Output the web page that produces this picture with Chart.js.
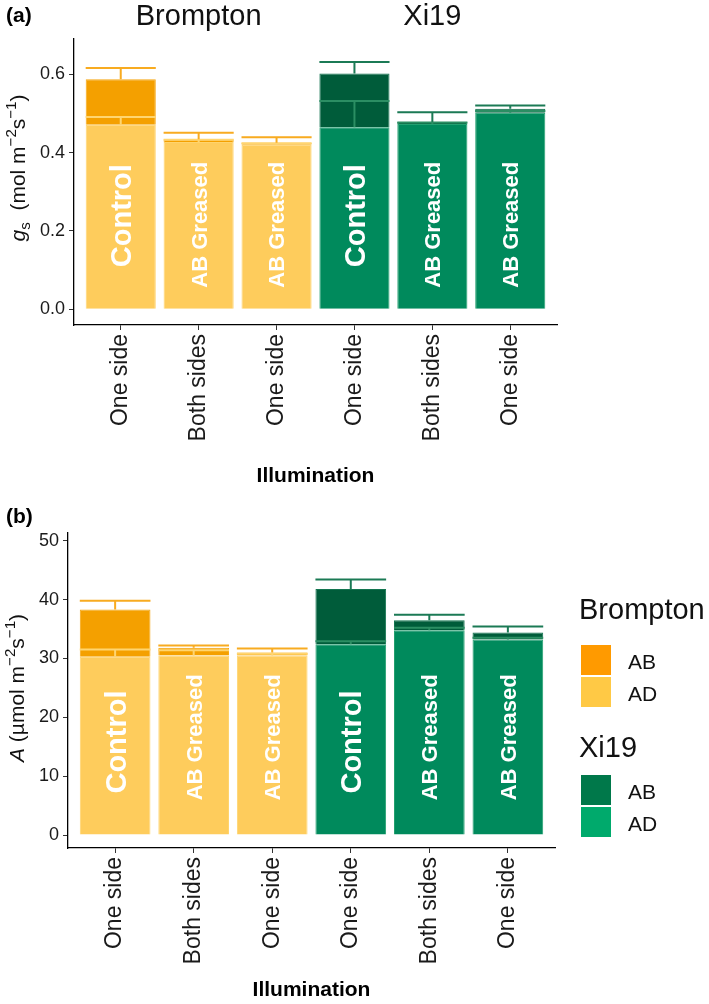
<!DOCTYPE html>
<html>
<head>
<meta charset="utf-8">
<script src="https://cdn.jsdelivr.net/npm/chart.js@4.4.0/dist/chart.umd.min.js"></script>
<style>
  body { margin: 0; background: #fff; width: 709px; height: 1004px; overflow: hidden; position: relative; }
  canvas { position: absolute; left: 0; }
  #gs { top: 0; }
  #photo { top: 440px; }
</style>
</head>
<body>
<canvas id="gs" width="709" height="500"></canvas>
<canvas id="photo" width="709" height="564"></canvas>
<script>
// categories
var illumination = ["One side", "Both sides", "One side", "One side", "Both sides", "One side"];
var treatment = ["Control", "AB Greased", "AB Greased", "Control", "AB Greased", "AB Greased"];
var cultivar = ["Brompton", "Brompton", "Brompton", "Xi19", "Xi19", "Xi19"];

// (a) stomatal conductance, mol m-2 s-1
var gsAD = [0.471, 0.427, 0.420, 0.465, 0.473, 0.502];
var gsAB = [0.116, 0.007, 0.005, 0.137, 0.005, 0.010];
var gsADse = [0.020, 0.006, 0.004, 0.067, 0.004, 0.004];
var gsABse = [0.029, 0.017, 0.014, 0.029, 0.025, 0.008];
var gsTicks = [0, 0.2, 0.4, 0.6];

// (b) assimilation, umol m-2 s-1
var aAD = [30.3, 30.5, 30.5, 32.4, 34.8, 33.2];
var aAB = [8.0, 1.3, 0.5, 9.4, 1.7, 1.2];
var aADse = [1.2, 0.9, 0.3, 0.5, 0.4, 0.3];
var aABse = [1.5, 0.4, 0.7, 1.6, 0.9, 1.0];
var aTicks = [0, 10, 20, 30, 40, 50];

var FONT = '"Liberation Sans", Arial, Helvetica, sans-serif';

var colours = {
  Brompton: { AD: "#FECC5C", AB: "#F4A000", adEdge: "#FFD46E", abEdge: "#F6A712",
              adLine: "#FFD570", abLine: "#F8AB20", keyAB: "#FF9A00", keyAD: "#FFC945" },
  Xi19: { AD: "#008A5C", AB: "#005C3A", adEdge: "#23A070", abEdge: "#137550",
          adLine: "#2B8E63", abLine: "#1B7A55", keyAB: "#00784A", keyAD: "#00AA6C" }
};

function whisker(ctx, cx, hw, y0, y1, col) {
  ctx.strokeStyle = col;
  ctx.lineWidth = 2;
  ctx.beginPath();
  ctx.moveTo(cx, y0);
  ctx.lineTo(cx, y1);
  ctx.moveTo(cx - hw, y1);
  ctx.lineTo(cx + hw, y1);
  ctx.stroke();
}

// rotated axis title made of pieces (italic, sub, sup)
function richTitle(ctx, parts, bx, cy, size) {
  ctx.save();
  ctx.translate(bx, cy);
  ctx.rotate(-Math.PI / 2);
  ctx.fillStyle = "#111";
  ctx.textBaseline = "alphabetic";
  ctx.textAlign = "left";
  var fontOf = function (p) {
    var s = (p.sup || p.sub) ? size * 0.72 : size;
    return (p.it ? "italic " : "") + s + "px " + FONT;
  };
  var total = 0;
  parts.forEach(function (p) { ctx.font = fontOf(p); total += ctx.measureText(p.t).width; });
  var x = -total / 2;
  parts.forEach(function (p) {
    ctx.font = fontOf(p);
    var dy = p.sup ? -size * 0.45 : (p.sub ? size * 0.22 : 0);
    ctx.fillText(p.t, x, dy);
    x += ctx.measureText(p.t).width;
  });
  ctx.restore();
}

function makePanel(id, o) {
  var plugin = {
    id: "extras",
    afterDatasetsDraw: function (chart) {
      var ctx = chart.ctx, y = chart.scales.y;
      var meta = chart.getDatasetMeta(0);
      ctx.save();
      o.ad.forEach(function (v, i) {
        var bar = meta.data[i], c = colours[cultivar[i]];
        var hw = bar.width / 2;
        whisker(ctx, bar.x, hw, y.getPixelForValue(v), y.getPixelForValue(v + o.adSe[i]), c.adLine);
        var tot = v + o.ab[i];
        whisker(ctx, bar.x, hw, y.getPixelForValue(tot), y.getPixelForValue(tot + o.abSe[i]), c.abLine);
      });
      // treatment text inside bars
      o.ad.forEach(function (v, i) {
        var bar = meta.data[i];
        var big = treatment[i] === "Control";
        var size = big ? 29 : 22;
        ctx.save();
        ctx.translate(bar.x, y.getPixelForValue(o.labelY[treatment[i]]));
        ctx.rotate(-Math.PI / 2);
        ctx.font = "bold " + size + "px " + FONT;
        ctx.fillStyle = "#fff";
        ctx.textAlign = "center";
        ctx.textBaseline = "alphabetic";
        ctx.fillText(treatment[i], 0, size * 0.36);
        ctx.restore();
      });
      ctx.restore();
    },
    afterDraw: function (chart) {
      var ctx = chart.ctx, x = chart.scales.x, area = chart.chartArea;
      ctx.save();
      ctx.fillStyle = "#000";
      ctx.font = "bold 21px " + FONT;
      ctx.textAlign = "left";
      ctx.fillText(o.panel, 6, o.panelY);
      ctx.textAlign = "center";
      ctx.fillText("Illumination", (area.left + area.right) / 2, o.xTitleY);
      if (o.groups) {
        ctx.font = "29px " + FONT;
        ctx.fillStyle = "#111";
        ctx.fillText("Brompton", x.getPixelForValue(1), 25);
        ctx.fillText("Xi19", x.getPixelForValue(4), 25);
      }
      richTitle(ctx, o.yTitle, o.yTitleX, o.yTitleY, 21);
      if (o.legend) {
        var groups = [["Brompton", 179, 205], ["Xi19", 317, 335]];
        groups.forEach(function (g) {
          var c = colours[g[0]];
          ctx.textAlign = "left";
          ctx.fillStyle = "#111";
          ctx.font = "29px " + FONT;
          ctx.fillText(g[0], 579, g[1]);
          [["AB", c.keyAB], ["AD", c.keyAD]].forEach(function (k, j) {
            var top = g[2] + j * 32;
            ctx.fillStyle = k[1];
            ctx.fillRect(581, top, 30, 30);
            ctx.fillStyle = "#111";
            ctx.font = "21px " + FONT;
            ctx.fillText(k[0], 628, top + 24);
          });
        });
      }
      ctx.restore();
    }
  };

  return new Chart(document.getElementById(id), {
    type: "bar",
    data: {
      datasets: [
        {
          label: "AD",
          data: o.ad.map(function (v, i) { return { x: i, y: v }; }),
          backgroundColor: cultivar.map(function (c) { return colours[c].AD; }),
          borderColor: cultivar.map(function (c) { return colours[c].adEdge; }),
          borderWidth: 1,
          barPercentage: 0.9,
          categoryPercentage: 1,
          stack: "s"
        },
        {
          label: "AB",
          data: o.ab.map(function (v, i) { return { x: i, y: v }; }),
          backgroundColor: cultivar.map(function (c) { return colours[c].AB; }),
          borderColor: cultivar.map(function (c) { return colours[c].abEdge; }),
          borderWidth: 1,
          barPercentage: 0.9,
          categoryPercentage: 1,
          stack: "s"
        }
      ]
    },
    options: {
      responsive: false,
      animation: false,
      layout: { padding: { left: 0, right: o.right, top: o.top, bottom: o.bottom } },
      plugins: { legend: { display: false }, tooltip: { enabled: false } },
      scales: {
        x: {
          type: "linear",
          min: -0.6,
          max: 5.6,
          offset: false,
          afterBuildTicks: function (s) {
            s.ticks = illumination.map(function (l, i) { return { value: i }; });
          },
          afterFit: function (s) { s.height = o.xHeight; },
          ticks: {
            autoSkip: false,
            maxRotation: 90,
            minRotation: 90,
            padding: 4,
            color: "#1a1a1a",
            font: { family: FONT, size: 23 },
            callback: function (v) { return illumination[v]; }
          },
          grid: { display: true, drawOnChartArea: false, drawTicks: true, tickLength: 5, color: "#333", offset: false },
          border: { display: true, color: "#000", width: 1.3 }
        },
        y: {
          stacked: true,
          min: o.yMin,
          max: o.yMax,
          afterBuildTicks: function (s) {
            s.ticks = o.ticks.map(function (v) { return { value: v }; });
          },
          afterFit: function (s) { s.width = o.left; },
          ticks: {
            padding: 4,
            color: "#1a1a1a",
            font: { family: FONT, size: 18 },
            callback: o.fmt
          },
          grid: { display: true, drawOnChartArea: false, drawTicks: true, tickLength: 5, color: "#333" },
          border: { display: true, color: "#000", width: 1.3 }
        }
      }
    },
    plugins: [plugin]
  });
}

makePanel("gs", {
  ad: gsAD, ab: gsAB, adSe: gsADse, abSe: gsABse,
  ticks: gsTicks, yMin: -0.04, yMax: 0.69,
  fmt: function (v) { return v.toFixed(1); },
  left: 74, right: 152, top: 39, bottom: 60, xHeight: 115,
  labelY: { "Control": 0.239, "AB Greased": 0.216 },
  panel: "(a)", panelY: 22, xTitleY: 482, groups: true,
  yTitle: [{ t: "g", it: true }, { t: "s", sub: true }, { t: "  (mol m" }, { t: "\u22122", sup: true },
           { t: "s" }, { t: "\u22121", sup: true }, { t: ")" }],
  yTitleX: 25, yTitleY: 168, legend: false
});

makePanel("photo", {
  ad: aAD, ab: aAB, adSe: aADse, abSe: aABse,
  ticks: aTicks, yMin: -2.2, yMax: 51.3,
  fmt: function (v) { return String(v); },
  left: 68, right: 154, top: 93, bottom: 0, xHeight: 156,
  labelY: { "Control": 15.8, "AB Greased": 16.6 },
  panel: "(b)", panelY: 83, xTitleY: 556, groups: false,
  yTitle: [{ t: "A", it: true }, { t: " (\u00b5mol m" }, { t: "\u22122", sup: true },
           { t: "s" }, { t: "\u22121", sup: true }, { t: ")" }],
  yTitleX: 24, yTitleY: 248, legend: true
});
</script>
</body>
</html>
